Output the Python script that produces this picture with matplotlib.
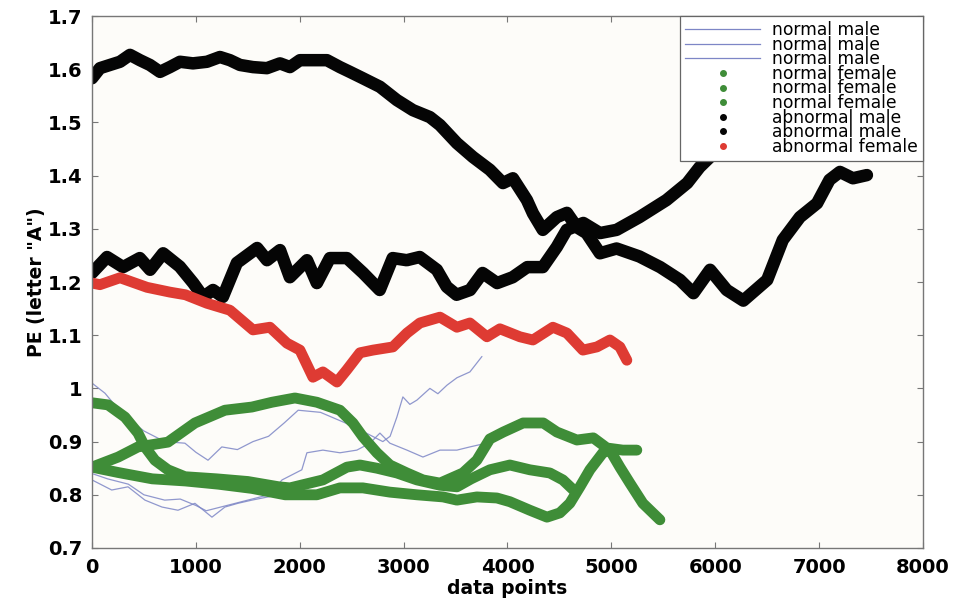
import matplotlib
matplotlib.use("Agg")
import matplotlib.pyplot as plt
from matplotlib.lines import Line2D

# normal male traces (thin lines)
male_n1_x = [0, 125, 300, 500, 700, 895, 1000, 1117, 1250, 1400, 1550, 1700, 1850, 1985, 2200,
             2500, 2700, 2800, 2870, 2935, 2993, 3060, 3128, 3253, 3330, 3417, 3513, 3638, 3754]
male_n1_y = [1.010, 0.991, 0.950, 0.920, 0.900, 0.897, 0.880, 0.865, 0.890, 0.885, 0.900, 0.910, 0.935, 0.959, 0.955,
             0.930, 0.910, 0.900, 0.910, 0.946, 0.984, 0.970, 0.978, 1.000, 0.990, 1.006, 1.020, 1.031, 1.060]

male_n2_x = [0, 150, 350, 500, 700, 850, 1000, 1100, 1300, 1500, 1700, 1830, 2020, 2069, 2223, 2387,
             2550, 2676, 2772, 2868, 3032, 3186, 3350, 3513, 3638, 3750]
male_n2_y = [0.840, 0.830, 0.820, 0.800, 0.790, 0.792, 0.780, 0.770, 0.780, 0.790, 0.800, 0.828, 0.847, 0.879, 0.884, 0.879,
             0.884, 0.897, 0.916, 0.897, 0.884, 0.871, 0.884, 0.884, 0.890, 0.895]

male_n3_x = [0, 190, 347, 510, 674, 828, 991, 1155, 1280, 1405, 1540, 1694, 1800]
male_n3_y = [0.828, 0.809, 0.815, 0.790, 0.777, 0.771, 0.784, 0.758, 0.777, 0.784, 0.790, 0.796, 0.800]

# normal female traces
female_n1_x = [0, 253, 443, 731, 991, 1280, 1540, 1733, 1954, 2165, 2387, 2512, 2608, 2743, 2868, 3032,
               3186, 3350, 3571, 3705, 3830, 3960, 4150, 4345, 4475, 4668, 4826, 4957, 5110, 5245]
female_n1_y = [0.852, 0.871, 0.890, 0.899, 0.935, 0.959, 0.965, 0.974, 0.982, 0.974, 0.959, 0.935, 0.909, 0.879, 0.856, 0.841,
               0.828, 0.822, 0.841, 0.865, 0.905, 0.918, 0.935, 0.935, 0.918, 0.903, 0.907, 0.888, 0.884, 0.884]

female_n2_x = [0, 155, 318, 443, 510, 606, 731, 895, 1200, 1500, 1800, 1906, 2223, 2454, 2580, 2743,
               2935, 3128, 3350, 3513, 3650, 3830, 4023, 4215, 4408, 4533, 4630]
female_n2_y = [0.973, 0.969, 0.946, 0.916, 0.890, 0.865, 0.847, 0.834, 0.830, 0.825, 0.815, 0.813, 0.828, 0.852, 0.856, 0.850,
               0.841, 0.828, 0.818, 0.815, 0.830, 0.847, 0.856, 0.847, 0.841, 0.828, 0.810]

female_n3_x = [0, 250, 580, 900, 1215, 1540, 1860, 2165, 2387, 2608, 2868, 3128, 3380, 3513, 3705,
               3898, 4023, 4215, 4380, 4504, 4600, 4697, 4793, 4918, 4986, 5082, 5178, 5303, 5467]
female_n3_y = [0.852, 0.842, 0.830, 0.826, 0.820, 0.812, 0.800, 0.800, 0.813, 0.813, 0.805, 0.800, 0.796, 0.790, 0.796,
               0.794, 0.787, 0.771, 0.758, 0.766, 0.784, 0.815, 0.847, 0.879, 0.884, 0.852, 0.822, 0.784, 0.753]

# abnormal male traces
male_a1_x = [0, 77, 173, 270, 366, 462, 558, 655, 750, 847, 972, 1107, 1232, 1328, 1425, 1550, 1684, 1810,
             1906, 2002, 2127, 2262, 2387, 2483, 2608, 2772, 2935, 3090, 3253, 3350, 3513, 3667, 3830, 3956,
             4052, 4187, 4245, 4340, 4475, 4572, 4668, 4760, 4890, 5050, 5270, 5470, 5660, 5790, 5950,
             6110, 6270, 6500, 6650, 6815, 6980, 7100, 7200, 7325, 7460]
male_a1_y = [1.583, 1.602, 1.608, 1.614, 1.627, 1.617, 1.608, 1.595, 1.604, 1.614, 1.611, 1.614, 1.623, 1.617, 1.608, 1.604, 1.602, 1.611,
             1.604, 1.617, 1.617, 1.617, 1.604, 1.595, 1.583, 1.567, 1.542, 1.523, 1.510, 1.495, 1.461, 1.435, 1.411, 1.386,
             1.395, 1.354, 1.329, 1.298, 1.322, 1.330, 1.303, 1.292, 1.254, 1.263, 1.248, 1.228, 1.204, 1.179, 1.223,
             1.185, 1.165, 1.204, 1.279, 1.322, 1.348, 1.392, 1.407, 1.395, 1.401]

male_a2_x = [0, 145, 300, 460, 560, 685, 845, 975, 1070, 1165, 1260, 1395, 1590, 1685, 1810, 1905, 2070,
             2165, 2290, 2455, 2610, 2770, 2895, 3030, 3155, 3320, 3415, 3510, 3640, 3760, 3900, 4050,
             4190, 4340, 4475, 4570, 4730, 4890, 5050, 5270, 5530, 5730, 5850, 5950, 6050]
male_a2_y = [1.217, 1.247, 1.228, 1.245, 1.223, 1.254, 1.229, 1.198, 1.172, 1.185, 1.172, 1.236, 1.264, 1.241, 1.260, 1.209, 1.241,
             1.198, 1.245, 1.245, 1.217, 1.185, 1.245, 1.241, 1.247, 1.223, 1.191, 1.176, 1.185, 1.217, 1.198, 1.209,
             1.228, 1.228, 1.266, 1.298, 1.311, 1.292, 1.298, 1.322, 1.354, 1.386, 1.416, 1.435, 1.470]

# abnormal female trace
female_a1_x = [0, 77, 270, 530, 750, 900, 1107, 1328, 1550, 1713, 1877, 2002, 2127, 2223, 2358, 2454,
               2580, 2705, 2897, 3032, 3157, 3350, 3513, 3638, 3802, 3927, 4120, 4245, 4437, 4572,
               4726, 4861, 4986, 5082, 5149]
female_a1_y = [1.198, 1.195, 1.208, 1.190, 1.181, 1.176, 1.160, 1.147, 1.110, 1.115, 1.085, 1.072, 1.021, 1.031, 1.012, 1.035,
               1.067, 1.072, 1.078, 1.104, 1.123, 1.134, 1.115, 1.123, 1.097, 1.112, 1.097, 1.091, 1.115, 1.104,
               1.072, 1.078, 1.091, 1.078, 1.053]

legend_labels = ["normal male", "normal male", "normal male",
                 "normal female", "normal female", "normal female",
                 "abnormal male", "abnormal male", "abnormal female"]

x_ticks = [0, 1000, 2000, 3000, 4000, 5000, 6000, 7000, 8000]
y_ticks = [0.7, 0.8, 0.9, 1.0, 1.1, 1.2, 1.3, 1.4, 1.5, 1.6, 1.7]
y_tick_labels = ["0.7", "0.8", "0.9", "1", "1.1", "1.2", "1.3", "1.4", "1.5", "1.6", "1.7"]

BLUE = "#7d86c6"
GREEN = "#3f8d38"
BLACK = "#050505"
RED = "#de3b33"

series = [
    (male_n1_x, male_n1_y, BLUE, "thin"),
    (male_n2_x, male_n2_y, BLUE, "thin"),
    (male_n3_x, male_n3_y, BLUE, "thin"),
    (female_n1_x, female_n1_y, GREEN, "thick"),
    (female_n2_x, female_n2_y, GREEN, "thick"),
    (female_n3_x, female_n3_y, GREEN, "thick"),
    (male_a1_x, male_a1_y, BLACK, "heavy"),
    (male_a2_x, male_a2_y, BLACK, "heavy"),
    (female_a1_x, female_a1_y, RED, "thick"),
]
widths = {"thin": 0.9, "thick": 7.8, "heavy": 9.0}

fig = plt.figure(figsize=(9.56, 6.07), dpi=100, facecolor="white")
ax = fig.add_axes([0.0962, 0.0972, 0.8693, 0.8764])
ax.set_facecolor("#fdfcf9")

handles = []
for (xs, ys, color, kind), label in zip(series, legend_labels):
    ax.plot(xs, ys, color=color, lw=widths[kind], solid_joinstyle="round",
            solid_capstyle="round", alpha=0.85 if kind == "thin" else 1.0)
    if kind == "thin":
        handles.append(Line2D([], [], color=color, lw=0.9, label=label))
    else:
        handles.append(Line2D([], [], color=color, ls="none", marker="o",
                              ms=4, label=label))

ax.set_xlim(0, 8000)
ax.set_ylim(0.7, 1.7)
ax.set_xticks(x_ticks)
ax.set_xticklabels([str(t) for t in x_ticks])
ax.set_yticks(y_ticks)
ax.set_yticklabels(y_tick_labels)
ax.tick_params(direction="in", top=True, right=True, length=4, width=0.8,
               color="#777777", labelsize=14, pad=7)
for lbl in ax.get_xticklabels() + ax.get_yticklabels():
    lbl.set_fontweight("bold")
for sp in ax.spines.values():
    sp.set_color("#777777")
    sp.set_linewidth(1.0)

ax.set_xlabel("data points", fontsize=13.5, fontweight="bold", labelpad=2)
ax.set_ylabel('PE (letter "A")', fontsize=13.5, fontweight="bold", labelpad=1)

leg = ax.legend(handles=handles, loc="upper right", borderaxespad=0,
                fontsize=12.3, fancybox=False, framealpha=1, edgecolor="#666666",
                handlelength=4.4, handletextpad=0.7, labelspacing=-0.2,
                borderpad=0.3)
leg.get_frame().set_linewidth(0.9)

fig.savefig("out.png", dpi=100, facecolor="white")
